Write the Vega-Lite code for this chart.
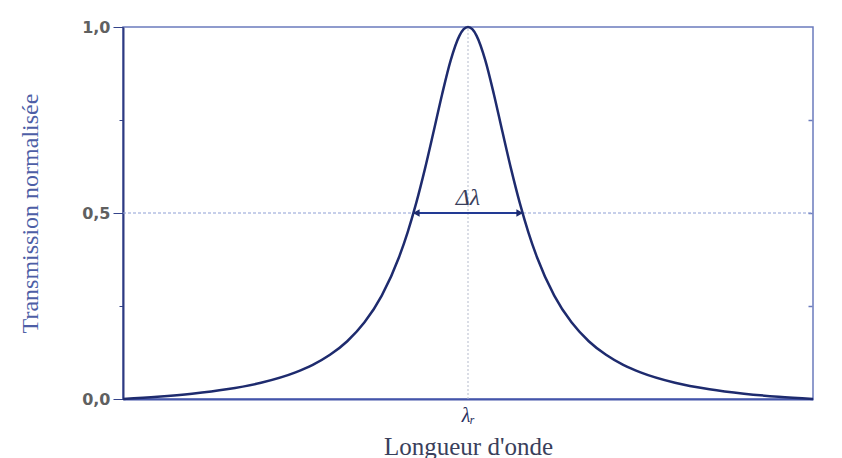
{
  "$schema": "https://vega.github.io/schema/vega-lite/v6.json",
  "width": 690,
  "height": 372,
  "autosize": "none",
  "padding": {"left": 123, "top": 27, "right": 29, "bottom": 59},
  "background": "white",
  "config": {"view": {"stroke": "#6b7bbd", "strokeWidth": 1.5}},
  "resolve": {"axis": {"y": "independent"}},
  "encoding": {
    "x": {
      "field": "x", "type": "quantitative",
      "scale": {"domain": [-1, 1], "nice": false, "zero": false},
      "axis": {
        "values": [0], "labelExpr": "'λᵣ'", "ticks": false, "tickSize": 0, "grid": false,
        "domainColor": "#4455aa", "domainWidth": 2,
        "labelFont": "Liberation Serif", "labelFontStyle": "italic", "labelFontSize": 20, "labelColor": "#2a3060", "labelPadding": 6,
        "title": "Longueur d'onde", "titleFont": "Liberation Serif", "titleFontSize": 25, "titleFontWeight": "normal", "titleColor": "#3a3f5c",
        "titleY": 55, "titleBaseline": "alphabetic"
      }
    },
    "y": {
      "field": "y", "type": "quantitative",
      "scale": {"domain": [0, 1], "nice": false},
      "axis": null
    }
  },
  "layer": [
    {
      "data": {"values": [{"x": 0, "y": 0, "y2": 1}]},
      "mark": {"type": "rule", "color": "#b5bbcc", "strokeWidth": 1, "strokeDash": [2, 2]},
      "encoding": {"y2": {"field": "y2"}}
    },
    {
      "data": {"values": [{"x": -1, "x2": 1, "y": 0.5}]},
      "mark": {"type": "rule", "color": "#8e9fd4", "strokeWidth": 1, "strokeDash": [3, 2]},
      "encoding": {
        "x2": {"field": "x2"},
        "y": {
          "field": "y", "type": "quantitative",
          "axis": {"orient": "right", "values": [0.25, 0.5, 0.75], "tickSize": 4, "offset": -5, "tickColor": "#6b7bbd", "tickWidth": 1.5, "labels": false, "title": null, "grid": false, "domain": false}
        }
      }
    },
    {
      "data": {"values": [
        {"x": -1, "y": 0}, {"x": -0.9, "y": 0.006}, {"x": -0.8, "y": 0.0142}, {"x": -0.7, "y": 0.026},
        {"x": -0.6, "y": 0.0436}, {"x": -0.5, "y": 0.0715}, {"x": -0.45, "y": 0.0918}, {"x": -0.4, "y": 0.1188},
        {"x": -0.35, "y": 0.1553}, {"x": -0.3, "y": 0.206}, {"x": -0.25, "y": 0.2779}, {"x": -0.2, "y": 0.3811},
        {"x": -0.175, "y": 0.4482}, {"x": -0.15, "y": 0.5272}, {"x": -0.125, "y": 0.6179}, {"x": -0.1, "y": 0.7175},
        {"x": -0.075, "y": 0.8194}, {"x": -0.05, "y": 0.911}, {"x": -0.025, "y": 0.9762}, {"x": -0.0125, "y": 0.994},
        {"x": 0, "y": 1},
        {"x": 0.0125, "y": 0.994}, {"x": 0.025, "y": 0.9762}, {"x": 0.05, "y": 0.911}, {"x": 0.075, "y": 0.8194},
        {"x": 0.1, "y": 0.7175}, {"x": 0.125, "y": 0.6179}, {"x": 0.15, "y": 0.5272}, {"x": 0.175, "y": 0.4482},
        {"x": 0.2, "y": 0.3811}, {"x": 0.25, "y": 0.2779}, {"x": 0.3, "y": 0.206}, {"x": 0.35, "y": 0.1553},
        {"x": 0.4, "y": 0.1188}, {"x": 0.45, "y": 0.0918}, {"x": 0.5, "y": 0.0715}, {"x": 0.6, "y": 0.0436},
        {"x": 0.7, "y": 0.026}, {"x": 0.8, "y": 0.0142}, {"x": 0.9, "y": 0.006}, {"x": 1, "y": 0}
      ]},
      "mark": {"type": "line", "color": "#1e2b6e", "strokeWidth": 2.5, "interpolate": "monotone"},
      "encoding": {
        "y": {
          "field": "y", "type": "quantitative",
          "axis": {
            "orient": "left",
            "values": [0, 0.25, 0.5, 0.75, 1],
            "labelExpr": "datum.value == 0.25 || datum.value == 0.75 ? '' : replace(format(datum.value, '.1f'), '.', ',')",
            "tickSize": {"condition": {"test": "datum.value == 0.25 || datum.value == 0.75", "value": 4}, "value": 10},
            "tickColor": "#34438a", "grid": false,
            "domainColor": "#2e3a80", "domainWidth": 2,
            "labelFont": "DejaVu Sans", "labelFontWeight": "bold", "labelFontSize": 16, "labelColor": "#606060", "labelPadding": 3,
            "title": "Transmission normalisée", "titleFont": "Liberation Serif", "titleFontSize": 24, "titleFontWeight": "normal", "titleColor": "#4d5ea6",
            "titleX": -86, "titleY": 186, "titleBaseline": "alphabetic", "titleAngle": 270
          }
        }
      }
    },
    {
      "data": {"values": [{"x": -0.158, "x2": 0.158, "y": 0.5}]},
      "mark": {"type": "rule", "color": "#223a94", "strokeWidth": 2},
      "encoding": {"x2": {"field": "x2"}}
    },
    {
      "data": {"values": [{"x": -0.15, "y": 0.5, "dir": "left"}, {"x": 0.15, "y": 0.5, "dir": "right"}]},
      "mark": {"type": "point", "filled": true, "color": "#1e2b6e", "opacity": 1, "size": 60},
      "encoding": {
        "shape": {"field": "dir", "type": "nominal", "scale": {"domain": ["left", "right"], "range": ["triangle-left", "triangle-right"]}, "legend": null}
      }
    },
    {
      "data": {"values": [{"x": 0, "y": 0.522, "label": "Δλ"}]},
      "mark": {"type": "text", "font": "Liberation Serif", "fontStyle": "italic", "fontSize": 24, "color": "#3a3f5c", "baseline": "alphabetic", "align": "center"},
      "encoding": {"text": {"field": "label"}}
    }
  ]
}
